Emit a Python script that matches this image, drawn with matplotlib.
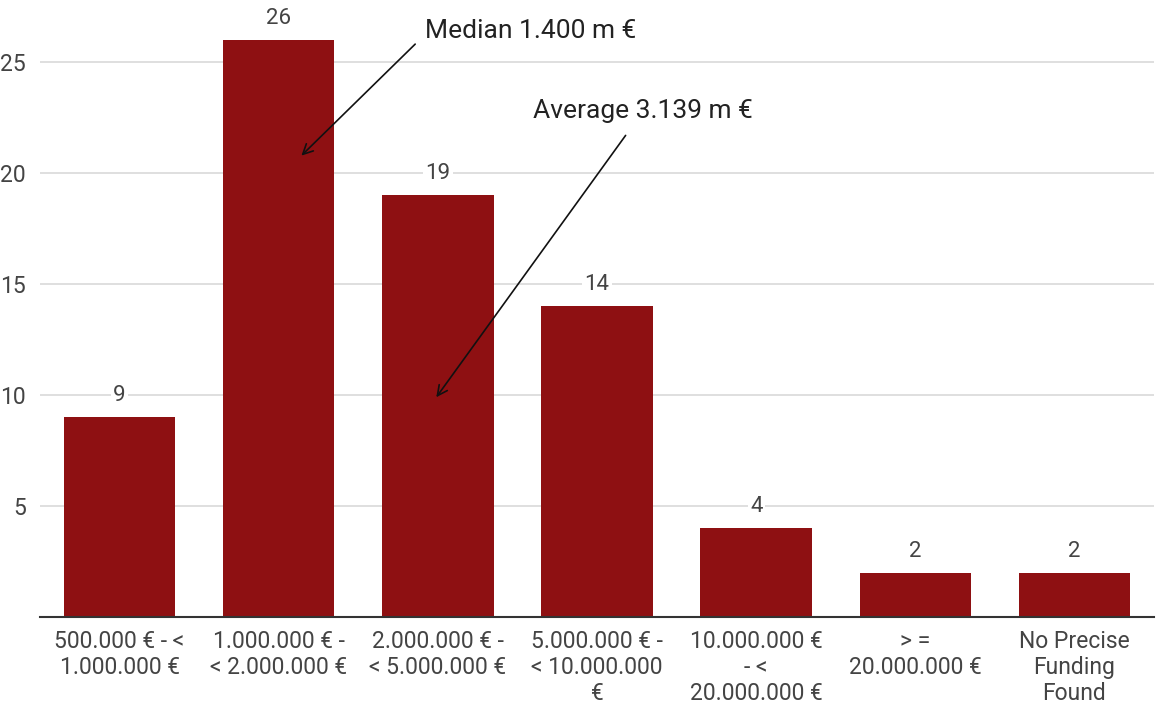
import numpy as np
import matplotlib.pyplot as plt

plt.rcParams['font.family'] = ['Roboto', 'DejaVu Sans']

# funding bands and number of projects in each
categories = ['500.000 € - <\n1.000.000 €',
              '1.000.000 € -\n< 2.000.000 €',
              '2.000.000 € -\n< 5.000.000 €',
              '5.000.000 € -\n< 10.000.000\n€',
              '10.000.000 €\n- <\n20.000.000 €',
              '> =\n20.000.000 €',
              'No Precise\nFunding\nFound']
counts = [9, 26, 19, 14, 4, 2, 2]
y_ticks = [5, 10, 15, 20, 25]

bar_col = '#8e1012'
txt_col = '#444444'

fig = plt.figure(figsize=(11.56, 7.07), dpi=100)
ax = fig.add_axes([40/1156, 90/707, 1114/1156, 617/707])

x = np.arange(len(counts))
ax.bar(x, counts, width=0.7, color=bar_col, zorder=3)

for xi, c in zip(x, counts):
    ax.text(xi, c + 0.5, str(c), ha='center', va='bottom', fontsize=16,
            color=txt_col, zorder=4,
            bbox=dict(boxstyle='square,pad=0.1', fc='white', ec='none'))

ax.set_xlim(-0.5, len(counts) - 0.5)
ax.set_ylim(0, 27.8)
ax.set_yticks(y_ticks)
ax.set_xticks(x)
ax.set_xticklabels(categories, fontsize=16.5, color=txt_col, linespacing=1.19)
ax.tick_params(axis='y', labelsize=16.5, labelcolor=txt_col, length=0, pad=10)
ax.tick_params(axis='x', length=0, pad=9)

ax.grid(axis='y', color='#d9d9d9', linewidth=1.2, zorder=0)
for s in ['top', 'right', 'left']:
    ax.spines[s].set_visible(False)
ax.spines['bottom'].set_color('#333333')
ax.spines['bottom'].set_linewidth(1.5)
ax.spines['bottom'].set_zorder(5)

# median and average call-outs
arrow = dict(arrowstyle='->', color='#111111', lw=1.2, mutation_scale=18)
ax.annotate('', xy=(1.13, 20.7), xytext=(1.87, 25.9), arrowprops=arrow, zorder=6)
ax.text(1.92, 26.4, 'Median 1.400 m €', fontsize=19, color='#222222',
        ha='left', va='center')
ax.annotate('', xy=(1.98, 9.8), xytext=(3.19, 21.8), arrowprops=arrow, zorder=6)
ax.text(2.6, 22.8, 'Average 3.139 m €', fontsize=19, color='#222222',
        ha='left', va='center')

fig.savefig('out.png', dpi=100, facecolor='white')
